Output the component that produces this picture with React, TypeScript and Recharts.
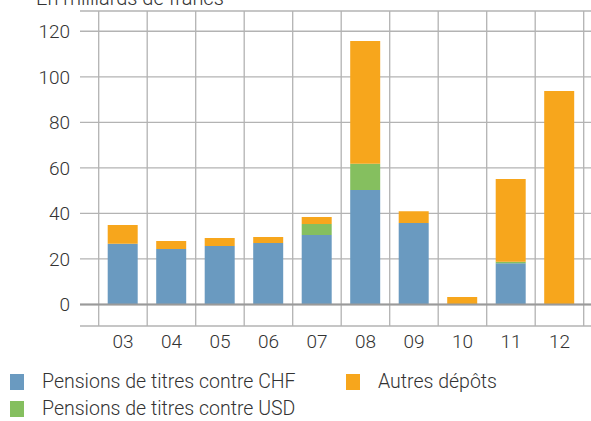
import React from 'react';
import { BarChart, Bar, XAxis, YAxis, CartesianGrid, ReferenceLine } from 'recharts';

const categories = ['03', '04', '05', '06', '07', '08', '09', '10', '11', '12'];
const chf = [26.7, 24.4, 25.7, 27.0, 30.5, 50.3, 35.8, 0, 18.1, 0];
const usd = [0, 0, 0, 0, 4.9, 11.5, 0, 0, 0.7, 0];
const autres = [8.2, 3.5, 3.5, 2.6, 3.0, 53.9, 5.2, 3.3, 36.3, 93.8];
const yTicks = [0, 20, 40, 60, 80, 100, 120];

const data = categories.map((c, i) => ({ name: c, chf: chf[i], usd: usd[i], autres: autres[i] }));

const FONT = 'Roboto, "Liberation Sans", sans-serif';
const TEXT = '#333333';
const GRID = '#b3b3b3';
const PAD_L = 18.7;
const PAD_R = 7.3;

const legendItems = [
  { label: 'Pensions de titres contre CHF', color: '#6a9ac0', x: 10, y: 373 },
  { label: 'Pensions de titres contre USD', color: '#85bf5f', x: 10, y: 400 },
  { label: 'Autres dépôts', color: '#f7a61c', x: 346, y: 373 },
];

const App: React.FC = () => {
  const verticalLines = ({ offset }: any) => {
    const left = offset.left + PAD_L;
    const band = (offset.width - PAD_L - PAD_R) / categories.length;
    return categories.map((_, i) => left + i * band).concat(left + categories.length * band);
  };

  return (
    <div style={{ position: 'absolute', left: 0, top: 0, width: 591, height: 421, fontFamily: FONT, overflow: 'hidden' }}>
      <div style={{ position: 'absolute', left: 36, top: -12, fontSize: 20, lineHeight: '20px', color: TEXT, fontWeight: 300 }}>
        En milliards de francs
      </div>
      <BarChart width={591} height={421} data={data} margin={{ top: 11, right: 0, left: 0, bottom: 65 }} barSize={30}>
        <CartesianGrid stroke={GRID} strokeWidth={1.3} verticalCoordinatesGenerator={verticalLines} />
        <XAxis
          dataKey="name"
          height={30}
          padding={{ left: PAD_L, right: PAD_R }}
          axisLine={false}
          tickLine={false}
          tick={{ fill: TEXT, fontSize: 19, fontFamily: FONT, fontWeight: 300 }}
          tickMargin={3}
        />
        <YAxis
          width={80}
          domain={[-9.44, 128.9]}
          allowDataOverflow
          ticks={yTicks}
          axisLine={false}
          tickLine={false}
          tick={{ fill: TEXT, fontSize: 19, fontFamily: FONT, fontWeight: 300 }}
          tickMargin={4}
        />
        <ReferenceLine y={0} stroke="#9a9a9a" strokeWidth={2} />
        <Bar dataKey="chf" stackId="a" fill="#6a9ac0" isAnimationActive={false} />
        <Bar dataKey="usd" stackId="a" fill="#85bf5f" isAnimationActive={false} />
        <Bar dataKey="autres" stackId="a" fill="#f7a61c" isAnimationActive={false} />
      </BarChart>
      {legendItems.map((item) => (
        <div key={item.label} style={{ position: 'absolute', left: item.x, top: item.y, display: 'flex', alignItems: 'center' }}>
          <div style={{ width: 14, height: 16, background: item.color }} />
          <span style={{ marginLeft: 18, fontSize: 19.5, color: TEXT, fontWeight: 300, lineHeight: '18px' }}>{item.label}</span>
        </div>
      ))}
    </div>
  );
};

export default App;
